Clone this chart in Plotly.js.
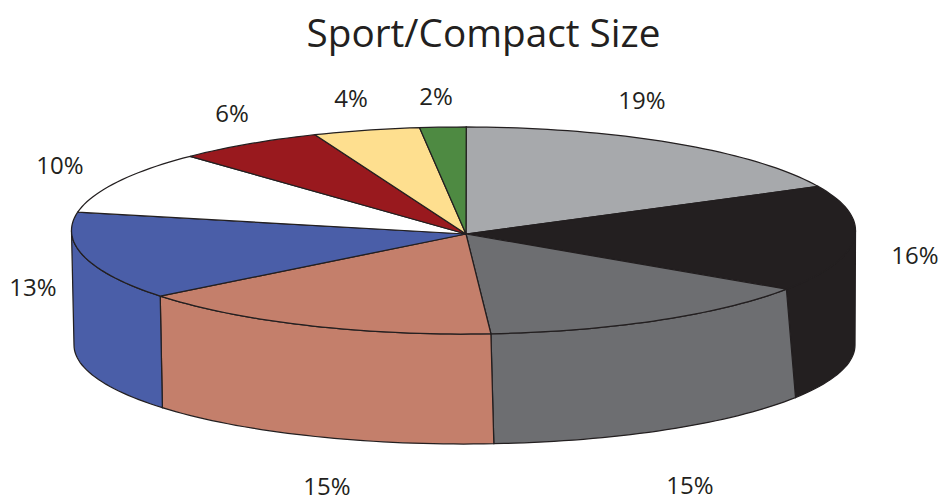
<!DOCTYPE html>
<html>
<head>
<meta charset="utf-8">
<script src="https://cdn.plot.ly/plotly-3.0.1.min.js"></script>
<style>html,body{margin:0;padding:0;background:#fff}#chart{width:941px;height:502px}</style>
</head>
<body>
<div id="chart"></div>
<script>
// Data
var sliceLabels = ["19%", "16%", "15%", "15%", "13%", "10%", "6%", "4%", "2%"];
// Drawn slice shares, measured from the rim of the picture (differ a little from the printed labels)
var sliceShares = [17.9, 16.6, 14.3, 15.2, 13.75, 9.9, 6.1, 4.4, 1.9];
var sliceColors = ["#a7a9ac", "#231f20", "#6d6e71", "#c47f6b", "#4a5ea8", "#ffffff", "#99191e", "#fedf8f", "#4e8a42"];
// Label anchors (page pixels)
var labelX = [642, 915, 690, 327, 33, 60, 232, 351, 436];
var labelY = [103, 258, 488, 489, 290, 168, 116, 101, 99];
var titleText = "Sport/Compact Size";

// Projection of the tilted pie
var top_ = {cx: 463.5, cy: 230.5, rx: 392, ry: 103.5};
var bot_ = {cx: 464.5, cy: 345, rx: 390.5, ry: 99};
var apex = {x: 466, y: 234};
var startDeg = 0.4;
var seamSkew = [0, 0, -2.5, -0.3, 0, 0, 0, 0, 0, 0]; // seam lean on the bottom rim
var ink = "#231f20";

function pt(e, deg) {
  var a = deg * Math.PI / 180;
  return [e.cx + e.rx * Math.sin(a), e.cy - e.ry * Math.cos(a)];
}
function arc(e, a0, a1) {
  var n = Math.max(2, Math.ceil(Math.abs(a1 - a0) / 1.5)), out = [];
  for (var i = 0; i <= n; i++) out.push(pt(e, a0 + (a1 - a0) * i / n));
  return out;
}
function poly(points, color) {
  return {
    type: "scatter", mode: "lines", hoverinfo: "skip", showlegend: false,
    x: points.map(function (p) { return p[0]; }),
    y: points.map(function (p) { return p[1]; }),
    fill: "toself", fillcolor: color,
    line: {color: ink, width: 1.25, simplify: false},
    cliponaxis: false
  };
}

var total = sliceShares.reduce(function (s, v) { return s + v; }, 0);
var angles = [startDeg];
sliceShares.forEach(function (v, i) { angles.push(angles[i] + v / total * 360); });

var traces = [];
// Side walls (only the front half of the rim shows)
sliceShares.forEach(function (v, i) {
  var a0 = Math.max(angles[i], 90), a1 = Math.min(angles[i + 1], 270);
  if (a1 <= a0) return;
  var b0 = a0 + (a0 === angles[i] ? seamSkew[i] : 0);
  var b1 = a1 + (a1 === angles[i + 1] ? seamSkew[i + 1] : 0);
  var pts = arc(top_, a0, a1).concat(arc(bot_, b1, b0));
  pts.push(pts[0]);
  traces.push(poly(pts, sliceColors[i]));
});
// Top faces
sliceShares.forEach(function (v, i) {
  var pts = [[apex.x, apex.y]].concat(arc(top_, angles[i], angles[i + 1]));
  pts.push([apex.x, apex.y]);
  traces.push(poly(pts, sliceColors[i]));
});
// Percentage labels
traces.push({
  type: "scatter", mode: "text", hoverinfo: "skip", showlegend: false,
  x: labelX, y: labelY, text: sliceLabels, textposition: "middle center",
  textfont: {family: "'Open Sans', 'Noto Sans', sans-serif", size: 24, color: ink},
  cliponaxis: false
});

var layout = {
  width: 941, height: 502,
  margin: {l: 0, r: 0, t: 0, b: 0},
  paper_bgcolor: "#ffffff", plot_bgcolor: "#ffffff",
  showlegend: false,
  title: {
    text: titleText, x: 483.5 / 941, xanchor: "center", y: 1 - 33 / 502, yanchor: "middle",
    font: {family: "'Open Sans', 'Noto Sans', sans-serif", size: 38.7, color: ink}
  },
  xaxis: {range: [0, 941], visible: false, fixedrange: true},
  yaxis: {range: [502, 0], visible: false, fixedrange: true}
};
Plotly.newPlot("chart", traces, layout, {displayModeBar: false, staticPlot: true});
</script>
</body>
</html>
